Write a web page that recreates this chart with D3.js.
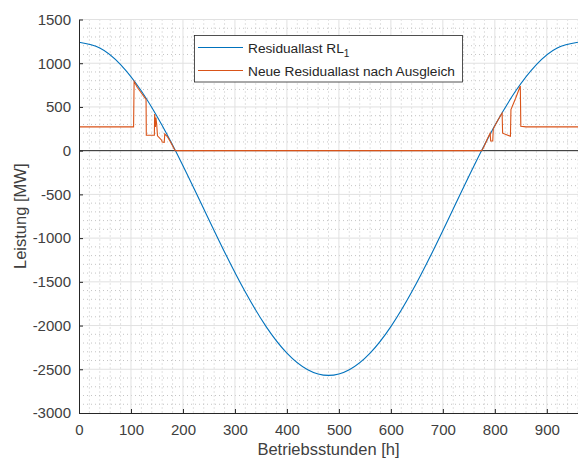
<!DOCTYPE html>
<html>
<head>
<meta charset="utf-8">
<script src="https://cdn.jsdelivr.net/npm/d3@7"></script>
<style>
  body { margin: 0; background: #fff; }
  svg { display: block; font-family: "Liberation Sans", Arial, sans-serif; }
</style>
</head>
<body>
<div id="chart"></div>
<script>
// Residuallast RL1 (read every 40 h)
const hours = [0, 40, 80, 120, 160, 200, 240, 280, 320, 360, 400, 440, 480,
  520, 560, 600, 640, 680, 720, 760, 800, 840, 880, 920, 960];
const residual = [1240, 1175, 985, 682, 287, -172, -665, -1158, -1617, -2012, -2315, -2505, -2570,
  -2505, -2315, -2012, -1617, -1158, -665, -172, 287, 682, 985, 1175, 1240];

// Neue Residuallast nach Ausgleich
const newHours = [0, 105, 106, 112, 120, 129, 129.5, 145, 145.5, 147, 148, 149.5, 151, 159, 160, 164, 165, 170, 175, 180, 185,
  775, 780, 786, 791, 792, 796, 797, 805, 814, 815, 830, 831, 840, 849, 850, 860, 960];
const newResidual = [272, 272, 790, 725, 660, 585, 176, 176, 420, 270, 380, 300, 170, 120, 100, 95, 190, 160, 110, 55, 0,
  0, 60, 140, 200, 110, 110, 250, 340, 430, 200, 165, 470, 600, 740, 280, 272, 272];

const xTicks = [0, 100, 200, 300, 400, 500, 600, 700, 800, 900];
const yTicks = [1500, 1000, 500, 0, -500, -1000, -1500, -2000, -2500, -3000];

const legendLabels = ["Residuallast RL", "Neue Residuallast nach Ausgleich"];

const Width = 578, Height = 459;
const mLeft = 79, mRight = 578, mTop = 19.5, mBottom = 413;
const blue = "#0072BD", orange = "#D95319";

const x = d3.scaleLinear().domain([0, 960]).range([mLeft, mRight]);
const y = d3.scaleLinear().domain([-3000, 1500]).range([mBottom, mTop]);

const svg = d3.select("#chart").append("svg")
  .attr("width", Width).attr("height", Height);

// minor grid (dotted)
const grid = svg.append("g");
grid.selectAll(".mx").data(d3.range(0, 961, 20).filter(d => d % 100 !== 0))
  .join("line")
  .attr("x1", d => x(d)).attr("x2", d => x(d))
  .attr("y1", mTop).attr("y2", mBottom)
  .attr("stroke", "#c4c4c4").attr("stroke-dasharray", "1,3");
grid.selectAll(".my").data(d3.range(-3000, 1501, 100).filter(d => d % 500 !== 0))
  .join("line")
  .attr("x1", mLeft).attr("x2", mRight)
  .attr("y1", d => y(d)).attr("y2", d => y(d))
  .attr("stroke", "#c4c4c4").attr("stroke-dasharray", "1,3");

// major grid
grid.selectAll(".gx").data(xTicks.slice(1)).join("line")
  .attr("x1", d => x(d)).attr("x2", d => x(d))
  .attr("y1", mTop).attr("y2", mBottom)
  .attr("stroke", "#e1e1e1");
grid.selectAll(".gy").data(yTicks.slice(0, -1)).join("line")
  .attr("x1", mLeft).attr("x2", mRight)
  .attr("y1", d => y(d)).attr("y2", d => y(d))
  .attr("stroke", "#e1e1e1");

// zero line
svg.append("line")
  .attr("x1", mLeft).attr("x2", mRight)
  .attr("y1", y(0)).attr("y2", y(0))
  .attr("stroke", "#262626").attr("stroke-width", 1);

const line = d3.line().x(d => x(d[0])).y(d => y(d[1]));

svg.append("path")
  .attr("d", line.curve(d3.curveNatural)(d3.zip(hours, residual)))
  .attr("fill", "none").attr("stroke", blue).attr("stroke-width", 1.1);

svg.append("path")
  .attr("d", line.curve(d3.curveLinear)(d3.zip(newHours, newResidual)))
  .attr("fill", "none").attr("stroke", orange).attr("stroke-width", 1.1);

// axes, ticks inward
const fmt = d => String(d);
const xAxis = svg.append("g")
  .attr("transform", `translate(0,${mBottom})`)
  .call(d3.axisBottom(x).tickValues(xTicks).tickFormat(fmt).tickSizeInner(-4).tickSizeOuter(0).tickPadding(11));
const yAxis = svg.append("g")
  .attr("transform", `translate(${mLeft},0)`)
  .call(d3.axisLeft(y).tickValues(yTicks).tickFormat(fmt).tickSizeInner(-4).tickSizeOuter(0).tickPadding(8));

[xAxis, yAxis].forEach(a => {
  a.select(".domain").attr("stroke", "#262626");
  a.selectAll(".tick line").attr("stroke", "#262626");
  a.selectAll(".tick text").attr("fill", "#404040")
    .style("font-size", "15px").style("font-family", "Liberation Sans, Arial, sans-serif");
});

svg.append("text")
  .attr("x", (mLeft + mRight) / 2).attr("y", 455)
  .attr("text-anchor", "middle")
  .attr("fill", "#404040").style("font-size", "16.5px")
  .text("Betriebsstunden [h]");

svg.append("text")
  .attr("transform", `translate(26,${(mTop + mBottom) / 2}) rotate(-90)`)
  .attr("text-anchor", "middle")
  .attr("fill", "#404040").style("font-size", "16.5px")
  .text("Leistung [MW]");

// legend
const legend = svg.append("g");
legend.append("rect")
  .attr("x", 194.5).attr("y", 35.5).attr("width", 268).attr("height", 46.5)
  .attr("fill", "#fff").attr("stroke", "#262626").attr("stroke-width", 0.8);

[blue, orange].forEach((c, i) => {
  const ly = 47.5 + i * 23;
  legend.append("line")
    .attr("x1", 198).attr("x2", 243).attr("y1", ly).attr("y2", ly)
    .attr("stroke", c).attr("stroke-width", 1.1);
  const t = legend.append("text")
    .attr("x", 248).attr("y", ly + 5)
    .attr("fill", "#262626").style("font-size", "13.7px")
    .text(legendLabels[i]);
  if (i === 0) {
    t.append("tspan").attr("dy", 4).style("font-size", "10px").text("1");
  }
});
</script>
</body>
</html>
